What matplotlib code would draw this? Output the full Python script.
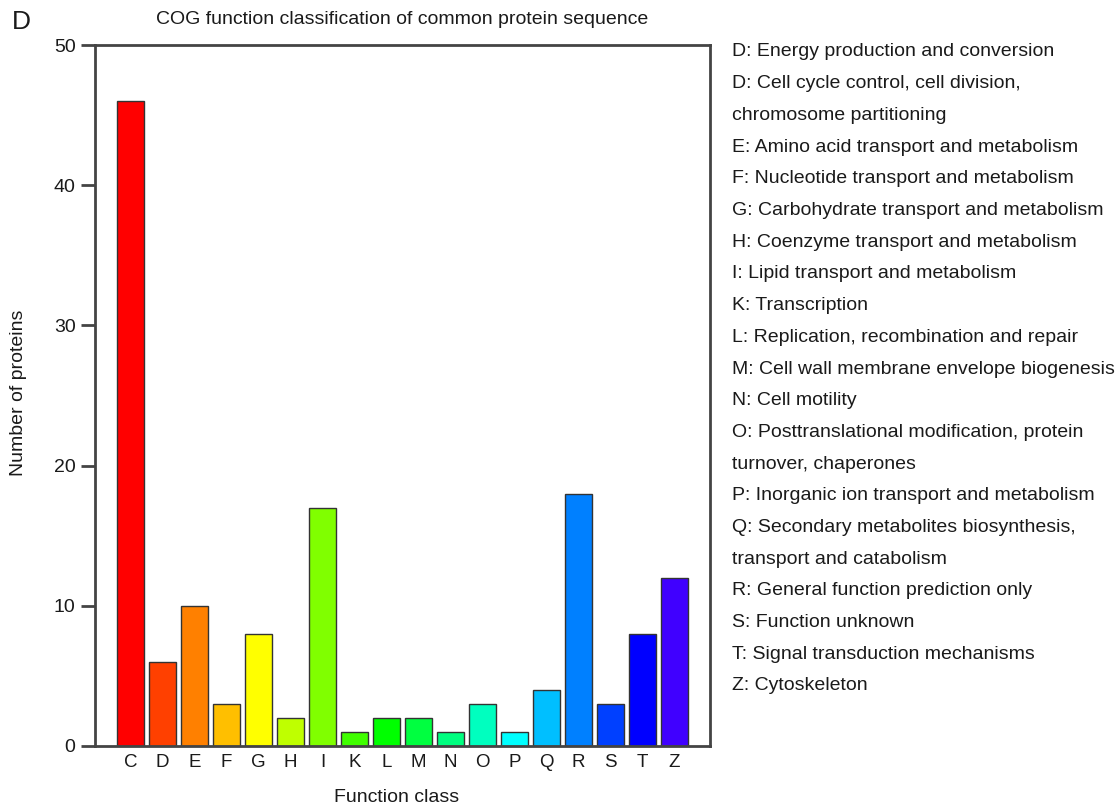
import matplotlib
matplotlib.use("Agg")
import matplotlib.pyplot as plt
import colorsys

plt.rcParams['font.family'] = ['Liberation Sans', 'DejaVu Sans']

# data
classes = ["C", "D", "E", "F", "G", "H", "I", "K", "L", "M",
           "N", "O", "P", "Q", "R", "S", "T", "Z"]
counts = [46, 6, 10, 3, 8, 2, 17, 1, 2, 2, 1, 3, 1, 4, 18, 3, 8, 12]
yticks = [0, 10, 20, 30, 40, 50]

descriptions = [
    "D: Energy production and conversion",
    "D: Cell cycle control, cell division,",
    "chromosome partitioning",
    "E: Amino acid transport and metabolism",
    "F: Nucleotide transport and metabolism",
    "G: Carbohydrate transport and metabolism",
    "H: Coenzyme transport and metabolism",
    "I: Lipid transport and metabolism",
    "K: Transcription",
    "L: Replication, recombination and repair",
    "M: Cell wall membrane envelope biogenesis",
    "N: Cell motility",
    "O: Posttranslational modification, protein",
    "turnover, chaperones",
    "P: Inorganic ion transport and metabolism",
    "Q: Secondary metabolites biosynthesis,",
    "transport and catabolism",
    "R: General function prediction only",
    "S: Function unknown",
    "T: Signal transduction mechanisms",
    "Z: Cytoskeleton",
]

# rainbow colours like R's rainbow(24)
colors = [colorsys.hsv_to_rgb(i / 24.0, 1, 1) for i in range(len(classes))]

W, H = 1118, 808
fig = plt.figure(figsize=(W / 100, H / 100), dpi=100)
ax = fig.add_axes([95 / W, 1 - 746 / H, (710 - 95) / W, (746 - 45) / H])

txt = "#1a1a1a"
line = "#444444"

x = range(len(classes))
ax.bar(x, counts, width=0.84, color=colors, edgecolor="#333333", linewidth=1.0,
       zorder=2)
ax.set_xlim(-1.11, 18.11)
ax.set_ylim(0, 50)
ax.set_xticks(list(x))
ax.set_xticklabels(classes)
ax.set_yticks(yticks)

for s in ax.spines.values():
    s.set_color(line)
    s.set_linewidth(2)
ax.tick_params(axis="y", length=10, width=2, color=line, labelsize=14,
               labelcolor=txt, pad=4)
ax.tick_params(axis="x", length=0, labelsize=13.5, labelcolor=txt, pad=6)

fig.text(402 / W, 1 - 20 / H, "COG function classification of common protein sequence",
         ha="center", va="center", fontsize=14, color=txt)
fig.text(21 / W, 1 - 22 / H, "D", ha="center", va="center", fontsize=19, color=txt)
fig.text(19 / W, 1 - 393 / H, "Number of proteins", rotation=90,
         ha="center", va="center", fontsize=14, color=txt)
fig.text(397 / W, 1 - 798 / H, "Function class", ha="center", va="center",
         fontsize=14, color=txt)

y0 = 52
step = 31.7
for i, d in enumerate(descriptions):
    fig.text(732 / W, 1 - (y0 + i * step) / H, d, ha="left", va="center",
             fontsize=14, color=txt)

fig.savefig("out.png", dpi=100)
